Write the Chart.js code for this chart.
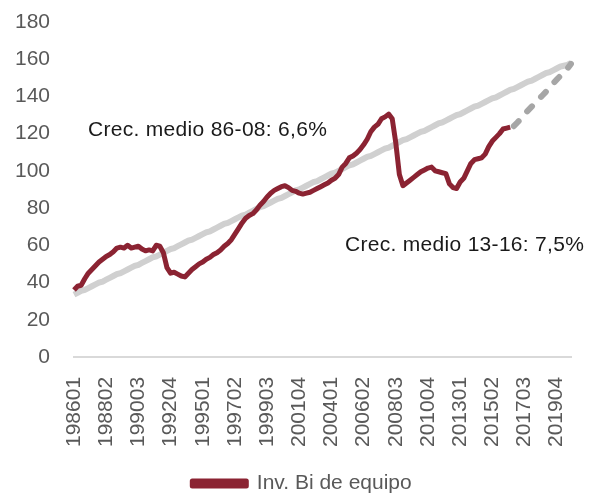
<!DOCTYPE html>
<html>
<head>
<meta charset="utf-8">
<script src="https://cdn.jsdelivr.net/npm/chart.js@4.4.1/dist/chart.umd.min.js"></script>
<style>
  html, body { margin: 0; padding: 0; background: #fff; }
  #wrap { width: 595px; height: 498px; }
</style>
</head>
<body>
<div id="wrap"><canvas id="myChart" width="595" height="498"></canvas></div>
<script>
// quarters 1986Q1 .. 2020Q4
const firstYear = 1986
const quarterCount = 140
const labels = []
for (let i = 0; i < quarterCount; i++) {
  labels.push(String(firstYear + Math.floor(i / 4)) + '0' + (i % 4 + 1))
}

// 1986Q1 .. 2016Q4
const invEquipo = [
  36, 38, 38.5, 42, 45, 47, 49, 51, 52.5, 54,
  55, 56.5, 58.5, 59, 58.5, 60, 58.5, 59, 59.5, 58,
  57, 57.5, 57, 60, 59.5, 56, 48, 45, 45.5, 44.5,
  43.5, 43, 45, 47, 48.5, 50, 51, 52.5, 53.5, 55,
  56, 57.5, 59.5, 61, 63, 66, 69, 72, 74.5, 76,
  77, 79, 81.5, 83.5, 86, 88, 89.5, 90.5, 91.5, 92,
  91, 89.5, 89, 88, 87.5, 88, 88.5, 89.5, 90.5, 91.5,
  92.5, 93.5, 95, 96, 98, 102, 104, 107, 108, 109.5,
  111.5, 114, 117, 121, 123.5, 125, 128, 129, 130.5,
  128, 115, 98, 92, 93.5, 95, 96.5, 98, 99.5, 100.5,
  101.5, 102, 100, 99.5, 99, 98.5, 93, 91, 90.5, 94,
  96, 100, 104, 106, 106.5, 107, 109, 113, 116, 118,
  120, 122.5, 123, 123.5
]

const tendencia = [
  33.5, 34.5, 35.5, 36, 37, 38, 39, 40, 40.5, 41.5,
  42.5, 43.5, 44.5, 45, 46, 47, 48, 49, 49.5, 50.5,
  51.5, 52.5, 53.5, 54, 55, 56, 57, 58, 58.5, 59.5,
  60.5, 61.5, 62.5, 63, 64, 65, 66, 67, 67.5, 68.5,
  69.5, 70.5, 71.5, 72, 73, 74, 75, 76, 76.5, 77.5,
  78.5, 79.5, 80.5, 81, 82, 83, 84, 85, 85.5, 86.5,
  87.5, 88.5, 89.5, 90, 91, 92, 93, 94, 94.5, 95.5,
  96.5, 97.5, 98.5, 99, 100, 101, 102, 103, 103.5, 104.5,
  105.5, 106.5, 107.5, 108, 109, 110, 111, 112, 112.5, 113.5,
  114.5, 115.5, 116.5, 117, 118, 119, 120, 121, 121.5, 122.5,
  123.5, 124.5, 125.5, 126, 127, 128, 129, 130, 130.5, 131.5,
  132.5, 133.5, 134.5, 135, 136, 137, 138, 139, 139.5, 140.5,
  141.5, 142.5, 143.5, 144, 145, 146, 147, 148, 148.5, 149.5,
  150.5, 151.5, 152.5, 153, 154, 155, 156, 156.5, 157, 158
]

// projection at 7,5% from 2016Q4
const proyStart = 123
const proyeccion = [
  124, 126, 128, 130.5, 132.5, 134.5, 136.5, 138.5, 140.5,
  142.5, 145, 147, 149, 151, 153, 155, 157.5
]

const notas = [
  { text: 'Crec. medio 86-08: 6,6%', x: 88, y: 130 },
  { text: 'Crec. medio 13-16: 7,5%', x: 345, y: 245 }
]

const fontFam = '"Liberation Sans", Arial, sans-serif'

const notesPlugin = {
  id: 'notes',
  afterDatasetsDraw(chart) {
    const c = chart.ctx
    c.save()
    c.font = '21px ' + fontFam
    c.letterSpacing = '0.3px'
    c.fillStyle = '#1a1a1a'
    c.textBaseline = 'middle'
    c.textAlign = 'left'
    notas.forEach(n => c.fillText(n.text, n.x, n.y))
    c.restore()
  }
}

const ctx = document.getElementById('myChart')

new Chart(ctx, {
  type: 'line',
  data: {
    labels: labels,
    datasets: [{
      label: 'Tendencia',
      data: tendencia,
      borderColor: '#d0d0d0',
      borderWidth: 6,
      pointRadius: 0,
      order: 3
    }, {
      label: 'Proyección',
      data: Array(proyStart).fill(null).concat(proyeccion),
      borderColor: '#a6a6a6',
      borderWidth: 6,
      borderDash: [7, 13],
      borderCapStyle: 'round',
      pointRadius: 0,
      order: 2
    }, {
      label: 'Inv. Bi de equipo',
      data: invEquipo,
      borderColor: '#8b2332',
      backgroundColor: '#8b2332',
      borderWidth: 5,
      borderJoinStyle: 'round',
      pointRadius: 0,
      order: 1
    }]
  },
  options: {
    responsive: false,
    animation: false,
    layout: { padding: { left: 9, right: 0, top: 0, bottom: -6 } },
    plugins: {
      tooltip: { enabled: false },
      legend: {
        position: 'bottom',
        labels: {
          filter: item => item.text === 'Inv. Bi de equipo',
          boxWidth: 54,
          boxHeight: 5,
          color: '#595959',
          font: { family: fontFam, size: 21, lineHeight: 1 },
          padding: 8
        }
      }
    },
    scales: {
      x: {
        offset: false,
        grid: { display: false, drawTicks: false },
        border: { display: true, color: '#d9d9d9', width: 2 },
        afterFit: scale => {
          scale.height -= 2
          scale.paddingLeft = 0
          scale.paddingRight = 24
        },
        ticks: {
          autoSkip: false,
          minRotation: 90,
          maxRotation: 90,
          padding: 20,
          color: '#595959',
          font: { family: fontFam, size: 21 },
          callback: function (val, i) { return i % 9 === 0 ? labels[i] : '' }
        }
      },
      y: {
        min: 0,
        max: 180,
        grid: { display: false, drawTicks: false },
        border: { display: false },
        afterFit: scale => {
          scale.width = 65
          scale.paddingTop = 22
          scale.paddingBottom = 12
        },
        ticks: {
          stepSize: 20,
          padding: 24,
          color: '#595959',
          font: { family: fontFam, size: 21 }
        }
      }
    }
  },
  plugins: [notesPlugin]
});
</script>
</body>
</html>
